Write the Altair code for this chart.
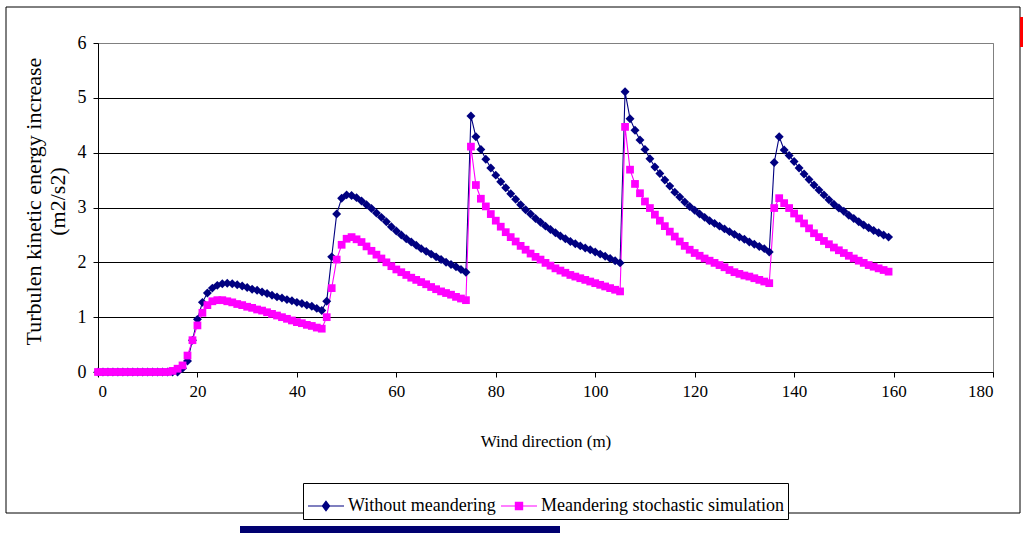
import altair as alt
import pandas as pd

# Wind direction positions (m) of the sampled points
wind_direction = list(range(160))

# Turbulent kinetic energy increase (m2/s2), run without meandering
without_meandering = [
    0, 0, 0, 0, 0, 0, 0, 0, 0, 0,
    0, 0, 0, 0, 0, 0, 0, 0.07, 0.20, 0.58,
    0.96, 1.27, 1.44, 1.53, 1.58, 1.61, 1.62, 1.61, 1.59, 1.57,
    1.54, 1.51, 1.49, 1.46, 1.43, 1.40, 1.37, 1.35, 1.32, 1.30,
    1.27, 1.25, 1.22, 1.20, 1.16, 1.12, 1.29, 2.10, 2.88, 3.17,
    3.23, 3.22, 3.18, 3.12, 3.05, 2.98, 2.90, 2.82, 2.74, 2.65,
    2.57, 2.50, 2.43, 2.37, 2.31, 2.25, 2.20, 2.15, 2.10, 2.05,
    2.00, 1.96, 1.92, 1.87, 1.82, 4.67, 4.29, 4.06, 3.88, 3.72,
    3.59, 3.47, 3.36, 3.25, 3.15, 3.05, 2.96, 2.88, 2.80, 2.73,
    2.66, 2.60, 2.54, 2.48, 2.43, 2.38, 2.34, 2.30, 2.26, 2.23,
    2.19, 2.15, 2.11, 2.07, 2.03, 1.99, 5.11, 4.62, 4.41, 4.23,
    4.06, 3.89, 3.74, 3.62, 3.50, 3.39, 3.28, 3.19, 3.10, 3.02,
    2.95, 2.88, 2.82, 2.76, 2.71, 2.66, 2.61, 2.56, 2.51, 2.46,
    2.42, 2.37, 2.33, 2.29, 2.25, 2.19, 3.82, 4.29, 4.05, 3.95,
    3.84, 3.72, 3.61, 3.51, 3.41, 3.32, 3.23, 3.14, 3.06, 2.99,
    2.93, 2.86, 2.80, 2.74, 2.68, 2.63, 2.58, 2.54, 2.50, 2.46,
]

# Turbulent kinetic energy increase (m2/s2), meandering stochastic simulation
meandering_stochastic = [
    0, 0, 0, 0, 0, 0, 0, 0, 0, 0,
    0, 0, 0, 0, 0, 0.02, 0.06, 0.12, 0.30, 0.58,
    0.85, 1.08, 1.22, 1.29, 1.31, 1.31, 1.29, 1.27, 1.24, 1.22,
    1.19, 1.17, 1.14, 1.12, 1.09, 1.06, 1.03, 1.00, 0.97, 0.94,
    0.91, 0.89, 0.86, 0.84, 0.81, 0.79, 1.00, 1.53, 2.05, 2.32,
    2.43, 2.46, 2.42, 2.37, 2.29, 2.21, 2.14, 2.07, 2.00, 1.93,
    1.87, 1.82, 1.77, 1.72, 1.68, 1.64, 1.60, 1.55, 1.51, 1.47,
    1.44, 1.41, 1.37, 1.34, 1.31, 4.11, 3.41, 3.16, 3.02, 2.88,
    2.76, 2.65, 2.55, 2.46, 2.38, 2.30, 2.23, 2.16, 2.10, 2.05,
    1.99, 1.94, 1.89, 1.85, 1.81, 1.77, 1.74, 1.71, 1.68, 1.65,
    1.62, 1.59, 1.56, 1.53, 1.50, 1.47, 4.47, 3.69, 3.43, 3.26,
    3.11, 2.99, 2.87, 2.76, 2.66, 2.56, 2.47, 2.38, 2.30, 2.23,
    2.17, 2.12, 2.07, 2.03, 1.99, 1.95, 1.91, 1.86, 1.82, 1.79,
    1.76, 1.74, 1.71, 1.68, 1.65, 1.62, 2.99, 3.17, 3.08, 2.99,
    2.89, 2.80, 2.71, 2.62, 2.53, 2.46, 2.39, 2.33, 2.27, 2.22,
    2.17, 2.12, 2.07, 2.03, 1.99, 1.95, 1.92, 1.89, 1.86, 1.83,
]

series_names = ["Without meandering", "Meandering stochastic simulation"]
series_colors = ["#000080", "#FF00FF"]

# legend glyphs: a short line with the series marker sitting on it
legend_glyphs = [
    "M-1,0L1,0M0,-0.26L0.2,0L0,0.26L-0.2,0Z",
    "M-1,0L1,0M-0.2,-0.2L0.2,-0.2L0.2,0.2L-0.2,0.2Z",
]

x_ticks = list(range(0, 181, 20))
y_ticks = list(range(0, 7))

FONT = "Liberation Serif"

df = pd.concat(
    [
        pd.DataFrame({"x": wind_direction, "y": without_meandering, "series": series_names[0]}),
        pd.DataFrame({"x": wind_direction, "y": meandering_stochastic, "series": series_names[1]}),
    ],
    ignore_index=True,
)


def color_scale():
    return alt.Scale(domain=series_names, range=series_colors)


x_enc = alt.X(
    "x:Q",
    scale=alt.Scale(domain=[0, 180], nice=False),
    axis=alt.Axis(
        values=x_ticks,
        format="d",
        grid=False,
        title="Wind direction (m)",
        titleFont=FONT,
        titleFontSize=17,
        titleFontWeight="normal",
        titleColor="black",
        titlePadding=34,
        labelFont=FONT,
        labelFontSize=17,
        labelColor="black",
        labelPadding=6,
        tickSize=5,
        tickColor="black",
        domainColor="black",
    ),
)

y_enc = alt.Y(
    "y:Q",
    scale=alt.Scale(domain=[0, 6], nice=False),
    axis=alt.Axis(
        values=y_ticks,
        format="d",
        grid=True,
        gridColor={"condition": {"test": "datum.value === 6", "value": "#808080"}, "value": "black"},
        gridWidth=1,
        title=["Turbulen kinetic energy increase", "(m2/s2)"],
        titleFont=FONT,
        titleFontSize=22,
        titleFontWeight="normal",
        titleColor="black",
        titleLineHeight=24,
        titlePadding=8,
        titleY=158,
        labelFont=FONT,
        labelFontSize=18,
        labelColor="black",
        labelPadding=7,
        tickSize=5,
        tickColor="black",
        domainColor="black",
    ),
)

lines = alt.Chart(df).mark_line(strokeWidth=1.1).encode(
    x=x_enc,
    y=y_enc,
    color=alt.Color("series:N", scale=color_scale(), legend=None),
)


def markers(name, shape, size):
    return (
        alt.Chart(df)
        .transform_filter(alt.datum.series == name)
        .mark_point(shape=shape, filled=True, size=size, opacity=1)
        .encode(
            x="x:Q",
            y="y:Q",
            color=alt.Color("series:N", scale=color_scale(), legend=None),
        )
    )


blue_points = markers(series_names[0], "diamond", 80)
pink_points = markers(series_names[1], "square", 60)

# legend entries, drawn off the plot so that only the legend shows them
legend_rows = alt.Data(values=[{"series": n} for n in series_names])
legend_layer = (
    alt.Chart(legend_rows)
    .mark_point(filled=True, opacity=1, strokeWidth=1.2, clip=True)
    .encode(
        x=alt.value(-2000),
        y=alt.value(-2000),
        color=alt.Color(
            "series:N",
            scale=color_scale(),
            legend=alt.Legend(
                orient="none",
                legendX=205,
                legendY=440,
                direction="horizontal",
                title=None,
                strokeColor="black",
                fillColor="white",
                padding=4,
                labelFont=FONT,
                labelFontSize=18,
                labelColor="black",
                labelOffset=3,
                labelLimit=600,
                columnPadding=2,
                symbolSize=1296,
                symbolStrokeWidth=1.2,
                symbolOpacity=1,
            ),
        ),
        stroke=alt.Stroke("series:N", scale=color_scale(), legend=None),
        shape=alt.Shape("series:N", scale=alt.Scale(domain=series_names, range=legend_glyphs), legend=None),
    )
)

one_row = alt.Data(values=[{}])

# outer chart frame
frame = alt.Chart(one_row).mark_rect(filled=False, stroke="black", strokeWidth=1).encode(
    x=alt.value(-92), x2=alt.value(922), y=alt.value(-36), y2=alt.value(470)
)

# page edge marks around the figure
red_edge = alt.Chart(one_row).mark_rect(fill="#FF0000").encode(
    x=alt.value(922), x2=alt.value(925), y=alt.value(-26), y2=alt.value(4)
)
blue_edge = alt.Chart(one_row).mark_rect(fill="#000070").encode(
    x=alt.value(142), x2=alt.value(462), y=alt.value(483), y2=alt.value(490)
)

chart = (
    alt.layer(frame, red_edge, blue_edge, lines, blue_points, pink_points, legend_layer)
    .resolve_scale(color="independent", stroke="independent", shape="independent")
    .properties(
        width=895,
        height=329,
        padding={"left": 98, "top": 43, "right": 30, "bottom": 161},
        autosize=alt.AutoSizeParams(type="none"),
        background="white",
    )
    .configure_view(stroke="#808080", strokeWidth=1)
)

chart.save("out.html", embed_options={"renderer": "svg", "actions": False})
